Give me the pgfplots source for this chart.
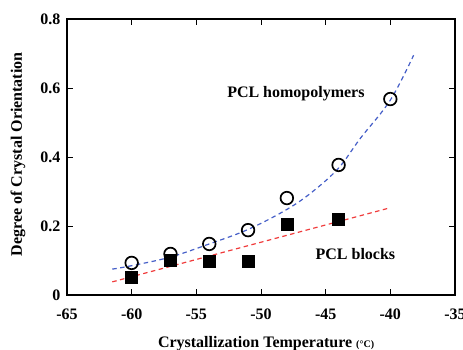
\documentclass[border=0pt]{standalone}
\usepackage{pgfplots}
\pgfplotsset{compat=1.18}
\usepackage{fontspec}
\setmainfont{Liberation Serif}
\definecolor{curveblue}{RGB}{70,95,200}
\definecolor{curvered}{RGB}{240,60,60}
\begin{document}
\begin{tikzpicture}[x=1pt,y=1pt]
\useasboundingbox (0,0) rectangle (463,350);
\begin{axis}[
  at={(67pt,55pt)}, anchor=south west,
  scale only axis, width=388pt, height=276pt,
  xmin=-65, xmax=-35, ymin=0, ymax=0.8,
  xtick={-65,-60,...,-35}, ytick={0,0.2,0.4,0.6,0.8},
  xticklabels={\textbf{-65},\textbf{-60},\textbf{-55},\textbf{-50},\textbf{-45},\textbf{-40},\textbf{-35}},
  yticklabels={\textbf{0},\textbf{0.2},\textbf{0.4},\textbf{0.6},\textbf{0.8}},
  /pgf/number format/assume math mode=true,
  tick align=inside, major tick length=6pt,
  axis line style={line width=1.2pt},
  every tick/.style={line width=1pt, black},
  tick label style={font=\fontsize{16}{19}\selectfont\bfseries},
  xticklabel style={yshift=-10pt},
  yticklabel style={xshift=-3pt},
  xlabel={Crystallization Temperature {\fontsize{10}{12}\selectfont(°C)}},
  ylabel={Degree of Crystal Orientation},
  label style={font=\fontsize{16}{19}\selectfont\bfseries},
  xlabel style={at={(axis description cs:0.513,-0.176)}, anchor=center},
  ylabel style={at={(axis description cs:-0.126,0.51)}, anchor=center, rotate=0},
  clip=false,
]
% fitted curves
\addplot[curveblue, line width=1.2pt, dash pattern=on 4.5pt off 3.5pt, smooth, tension=0.6] coordinates {
(-61.5,0.075) (-60,0.085) (-57,0.11) (-54,0.148) (-51,0.19) (-48,0.248) (-46,0.3) (-44,0.368) (-42.3,0.455) (-40,0.565) (-38.2,0.695)};
\addplot[curvered, line width=1.2pt, dash pattern=on 4.5pt off 3.5pt] coordinates {
(-61.5,0.038) (-40,0.253)};
% PCL blocks
\addplot[only marks, mark=square*, mark size=6pt, mark options={fill=black, draw=black}] coordinates {
(-60,0.053) (-57,0.1) (-54,0.097) (-51,0.097) (-48,0.206) (-44,0.22)};
% PCL homopolymers
\addplot[only marks, mark=o, mark size=6.3pt, mark options={draw=black, fill=white, line width=1.7pt}] coordinates {
(-60,0.093) (-57,0.119) (-54,0.148) (-51,0.188) (-48,0.281) (-44,0.377) (-40,0.568)};
\node[font=\fontsize{16}{19}\selectfont\bfseries] at (axis cs:-47.3,0.583) {PCL homopolymers};
\node[font=\fontsize{16}{19}\selectfont\bfseries] at (axis cs:-42.7,0.119) {PCL blocks};
\end{axis}
\end{tikzpicture}
\end{document}
